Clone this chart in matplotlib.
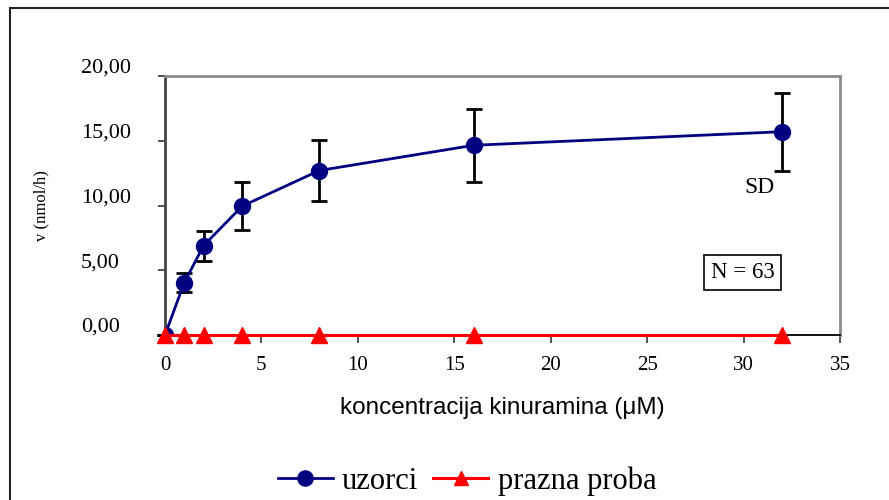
import matplotlib
matplotlib.use("Agg")
import matplotlib.pyplot as plt
from matplotlib.patches import Rectangle
from matplotlib.transforms import ScaledTranslation

# koncentracija kinuramina (uM)
conc = [0, 1, 2, 4, 8, 16, 32]
# uzorci: mean v (nmol/h) and SD
v_mean = [0.0, 4.05, 6.9, 9.95, 12.7, 14.65, 15.7]
v_sd = [0.0, 0.75, 1.15, 1.85, 2.35, 2.8, 3.0]
# prazna proba
blank = [0, 0, 0, 0, 0, 0, 0]

x_ticks = [0, 5, 10, 15, 20, 25, 30, 35]
y_ticks = [0, 5, 10, 15, 20]

serif = "Liberation Serif"
sans = "Liberation Sans"

fig = plt.figure(figsize=(8.89, 5), dpi=100)
ax = fig.add_axes([165/889, 1-335/500, 675/889, 259/500])

ax.errorbar(conc, v_mean, yerr=v_sd, fmt='none', ecolor='black',
            elinewidth=2, capsize=6, capthick=2, zorder=2, clip_on=False)
line1, = ax.plot(conc, v_mean, color='#000080', lw=2, marker='o',
                 markersize=11.5, zorder=3, label='uzorci')
line2, = ax.plot(conc, blank, color='#ff0000', lw=2.2, marker='^',
                 markersize=11, zorder=4, clip_on=False, label='prazna proba')

ax.set_xlim(0, 35)
ax.set_ylim(0, 20)
ax.set_xticks(x_ticks)
ax.set_yticks(y_ticks)
ax.set_xticklabels([str(t) for t in x_ticks], fontfamily=serif, fontsize=15)
ax.set_yticklabels([f"{t:.2f}".replace('.', ',') for t in y_ticks],
                   fontfamily=serif, fontsize=16, ha='left')
ax.tick_params(axis='x', direction='out', length=6, width=1.2, pad=9, color='#333333')
# labels are left aligned at about x = 83 px
ax.tick_params(axis='y', direction='out', length=5, width=1.2, pad=(165-5-83)/1.389,
               color='#333333')

# y tick labels sit a bit above their ticks
for lab in ax.get_yticklabels():
    lab.set_transform(lab.get_transform() + ScaledTranslation(0, 0.10, fig.dpi_scale_trans))

for side in ['top', 'right']:
    ax.spines[side].set_color('#8c8c8c')
    ax.spines[side].set_linewidth(2)
ax.spines['left'].set_color('#444444')
ax.spines['left'].set_linewidth(2)
ax.spines['bottom'].set_color('black')
ax.spines['bottom'].set_linewidth(1.3)

ax.set_xlabel('koncentracija kinuramina (\u03bcM)', fontfamily=sans, fontsize=17.5, va='center')
ax.xaxis.set_label_coords(0.5, -(408-335)/259)
ax.set_ylabel('v (nmol/h)', fontfamily=serif, fontsize=12, va='center')
ax.yaxis.set_label_coords(-(165-41)/675, 0.5)

ax.text(30.85, 11.4, 'SD', fontfamily=serif, fontsize=17, ha='center', va='center')
ax.text(29.95, 4.85, 'N = 63', fontfamily=serif, fontsize=16.5, ha='center', va='center',
        bbox=dict(boxstyle='square,pad=0.3', fc='white', ec='black', lw=1.2))

fig.legend(handles=[line1, line2], loc='center', bbox_to_anchor=(467/889, 1-481/500),
           ncol=2, frameon=False, prop={'family': serif, 'size': 22},
           handlelength=1.8, handletextpad=0.3, columnspacing=0.5, markerscale=0.95)

# outer chart border
fig.patches.append(Rectangle((10/889, -0.1), 1.2, 1.1 - 8/500, transform=fig.transFigure,
                             fill=False, ec='#222222', lw=1.5))

fig.savefig('out.png', dpi=100)
